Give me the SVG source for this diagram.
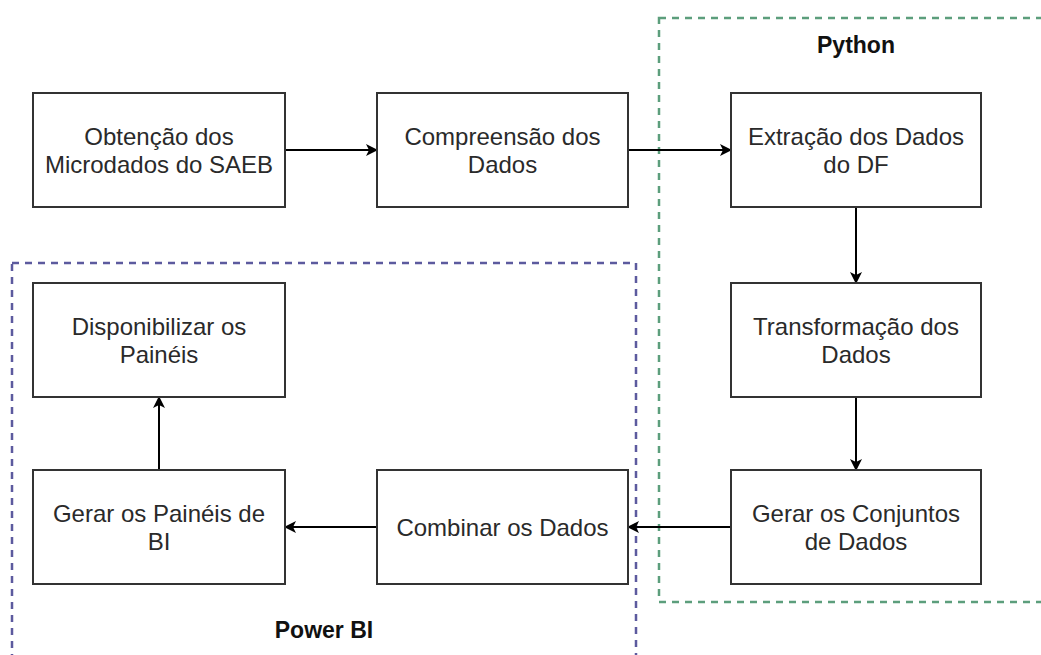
<svg xmlns="http://www.w3.org/2000/svg" width="1041" height="655" viewBox="0 0 1041 655">
<defs>
<style>
.node rect{fill:#ffffff;stroke:#333333;stroke-width:2}
.node text{font-family:"Liberation Sans",Arial,sans-serif;font-size:24px;fill:#2a2a2a;text-anchor:middle}
.lbl{font-family:"Liberation Sans",Arial,sans-serif;font-size:23px;font-weight:bold;fill:#111111;text-anchor:middle}
.edge{stroke:#000000;stroke-width:2;fill:none;marker-end:url(#arr)}
</style>
<marker id="arr" viewBox="0 0 12 12" refX="11" refY="6" markerWidth="12" markerHeight="12" markerUnits="userSpaceOnUse" orient="auto">
<path d="M0,0 L12,6 L0,12 L3,6 Z" fill="#000000"/>
</marker>
</defs>
<rect width="1041" height="655" fill="#ffffff"/>
<g id="group-python">
<rect x="659" y="18" width="420" height="584" fill="none" stroke="#5c9e7c" stroke-width="2.5" stroke-dasharray="7 6"/>
<text class="lbl" x="856" y="53">Python</text>
</g>
<g id="group-powerbi">
<rect x="12" y="263" width="624" height="420" fill="none" stroke="#5c5a9e" stroke-width="2.5" stroke-dasharray="7 6"/>
<text class="lbl" x="324" y="638">Power BI</text>
</g>
<g id="connectors">
<line class="edge" x1="285" y1="150" x2="377" y2="150"/>
<line class="edge" x1="628" y1="150" x2="731" y2="150"/>
<line class="edge" x1="856" y1="207" x2="856" y2="283"/>
<line class="edge" x1="856" y1="397" x2="856" y2="470"/>
<line class="edge" x1="731" y1="527" x2="628" y2="527"/>
<line class="edge" x1="377" y1="527" x2="285" y2="527"/>
<line class="edge" x1="159" y1="470" x2="159" y2="397"/>
</g>
<g id="n1" class="node">
<rect x="33" y="93" width="252" height="114"/>
<text x="159" y="144.5">Obtenção dos</text>
<text x="159" y="172.5">Microdados do SAEB</text>
</g>
<g id="n2" class="node">
<rect x="377" y="93" width="251" height="114"/>
<text x="502.5" y="144.5">Compreensão dos</text>
<text x="502.5" y="172.5">Dados</text>
</g>
<g id="n3" class="node">
<rect x="731" y="93" width="250" height="114"/>
<text x="856" y="144.5">Extração dos Dados</text>
<text x="856" y="172.5">do DF</text>
</g>
<g id="n4" class="node">
<rect x="731" y="283" width="250" height="114"/>
<text x="856" y="334.5">Transformação dos</text>
<text x="856" y="362.5">Dados</text>
</g>
<g id="n5" class="node">
<rect x="731" y="470" width="250" height="114"/>
<text x="856" y="521.5">Gerar os Conjuntos</text>
<text x="856" y="549.5">de Dados</text>
</g>
<g id="n6" class="node">
<rect x="377" y="470" width="251" height="114"/>
<text x="502.5" y="535.5">Combinar os Dados</text>
</g>
<g id="n7" class="node">
<rect x="33" y="470" width="252" height="114"/>
<text x="159" y="521.5">Gerar os Painéis de</text>
<text x="159" y="549.5">BI</text>
</g>
<g id="n8" class="node">
<rect x="33" y="283" width="252" height="114"/>
<text x="159" y="334.5">Disponibilizar os</text>
<text x="159" y="362.5">Painéis</text>
</g>
</svg>
